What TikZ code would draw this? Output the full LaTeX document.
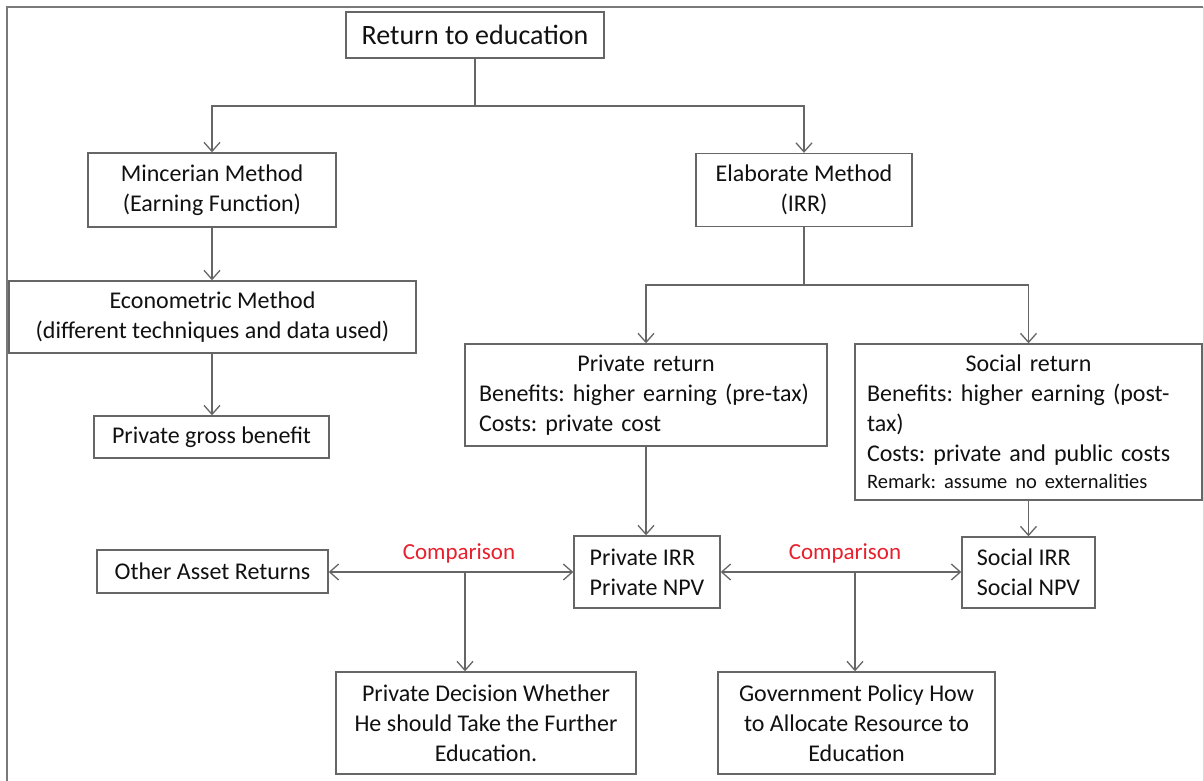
\documentclass[tikz,border=0pt]{standalone}
\usepackage{fontspec}
\setmainfont{Carlito}
\usetikzlibrary{arrows.meta}
\definecolor{linegray}{HTML}{666666}
\definecolor{framegray}{HTML}{7A7A7A}
\definecolor{txt}{HTML}{111111}
\definecolor{cmpred}{HTML}{E8202E}
\frenchspacing
\begin{document}
\begin{tikzpicture}[x=1pt,y=-1pt,
  box/.style={draw=linegray, line width=1.4pt, text=txt, font=\fontsize{24}{30}\selectfont, inner sep=0pt, align=center},
  conn/.style={draw=linegray, line width=1.3pt},
  arr/.style={conn, -{Straight Barb[length=9pt,width=16pt]}},
  darr/.style={conn, {Straight Barb[length=9pt,width=16pt]}-{Straight Barb[length=9pt,width=16pt]}},
  cmp/.style={text=cmpred, font=\fontsize{23}{28}\selectfont, inner sep=0pt}]
\useasboundingbox (0,0) rectangle (1204,780);
\fill[white] (0,0) rectangle (1204,780);
% frame
\draw[framegray, line width=2.5pt] (7,790) -- (7,7) -- (1203,7);
\draw[black!15, line width=1pt] (1203,7) -- (1203,790);

% nodes
\node[box, minimum width=258pt, minimum height=46pt, font=\fontsize{28}{32}\selectfont] (ret) at (475,35) {Return to education};
\node[box, minimum width=248pt, minimum height=74pt] (minc) at (212,190) {Mincerian Method\\(Earning Function)};
\node[box, minimum width=216pt, minimum height=73pt] (elab) at (804,190) {Elaborate Method\\(IRR)};
\node[box, minimum width=407pt, minimum height=72pt] (econ) at (212.5,317) {Econometric Method\\(different techniques and data used)};
\node[box, minimum width=235pt, minimum height=42pt] (gross) at (211.5,437) {Private gross benefit};
\node[box, minimum width=362pt, minimum height=102pt, text width=334pt, align=left] (prr) at (646,395)
  {\makebox[\linewidth][c]{Private return}\\Benefits: higher earning (pre-tax)\\Costs: private cost};
\node[box, minimum width=347pt, minimum height=156pt, text width=323pt, align=left] (srr) at (1028.5,422)
  {\makebox[\linewidth][c]{Social return}\\Benefits: higher earning (post-\\tax)\\Costs: private and public costs\\[-3pt]{\fontsize{20.5}{27}\selectfont Remark: assume no externalities}};
\node[box, minimum width=146pt, minimum height=72pt, align=left] (pirr) at (647,572) {Private IRR\\Private NPV};
\node[box, minimum width=133pt, minimum height=71pt, align=left] (sirr) at (1028.5,572.5) {Social IRR\\Social NPV};
\node[box, minimum width=231pt, minimum height=43pt] (other) at (212.5,571.5) {Other Asset Returns};
\node[box, minimum width=300pt, minimum height=102pt] (pdec) at (486,723) {Private Decision Whether\\He should Take the Further\\Education.};
\node[box, minimum width=277pt, minimum height=102pt] (gov) at (856.5,723) {Government Policy How\\to Allocate Resource to\\Education};
\node[cmp] (cmp1) at (459,553) {Comparison};
\node[cmp] (cmp2) at (845,553) {Comparison};

% connectors
\coordinate (j1) at (475,106);
\draw[conn] (ret.south) -- (j1);
\draw[arr] (j1) -| (minc.north);
\draw[arr] (j1) -| (elab.north);
\draw[arr] (minc.south) -- (minc.south |- econ.north);
\draw[arr] (minc.south |- econ.south) -- (minc.south |- gross.north);
\coordinate (j2) at (804,285);
\draw[conn] (elab.south) -- (j2);
\draw[arr] (j2) -| (prr.north);
\draw[arr] (j2) -| (srr.north);
\draw[arr] (prr.south) -- (prr.south |- pirr.north);
\draw[arr] (srr.south) -- (srr.south |- sirr.north);
\draw[darr] (other.east |- pirr.west) -- (pirr.west);
\draw[darr] (pirr.east) -- (pirr.east -| sirr.west);
\coordinate (c1) at (465,572);
\draw[arr] (c1) -- (c1 |- pdec.north);
\coordinate (c2) at (855,572);
\draw[arr] (c2) -- (c2 |- gov.north);
\end{tikzpicture}
\end{document}
